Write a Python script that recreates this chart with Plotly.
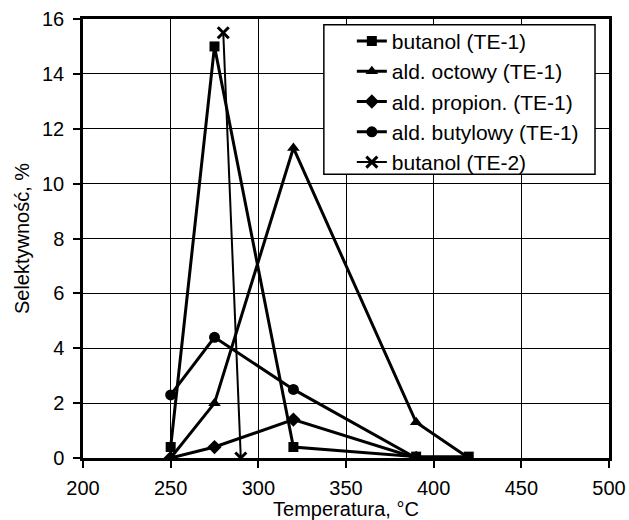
import plotly.graph_objects as go

# Data
t_butanol_te1 = [250, 275, 320, 390, 420]
s_butanol_te1 = [0.4, 15.0, 0.4, 0.05, 0.05]

t_octowy = [250, 275, 320, 390, 420]
s_octowy = [0.0, 2.0, 11.3, 1.3, 0.0]

t_propion = [250, 275, 320, 390]
s_propion = [0.0, 0.4, 1.4, 0.0]

t_butylowy = [250, 275, 320, 390]
s_butylowy = [2.3, 4.4, 2.5, 0.0]

t_butanol_te2 = [280, 290]
s_butanol_te2 = [15.5, 0.0]

names = ["butanol (TE-1)", "ald. octowy (TE-1)", "ald. propion. (TE-1)",
         "ald. butylowy (TE-1)", "butanol (TE-2)"]

fig = go.Figure()
series = [
    (t_butanol_te1, s_butanol_te1, "square", 10, 3),
    (t_octowy, s_octowy, "triangle-up", 11, 3),
    (t_propion, s_propion, "diamond", 11, 3),
    (t_butylowy, s_butylowy, "circle", 11, 3),
    (t_butanol_te2, s_butanol_te2, "x-thin-open", 11, 2),
]
for (x, y, sym, ms, lw), name in zip(series, names):
    marker = dict(symbol=sym, size=ms, color="black")
    if sym == "x-thin-open":
        marker["line"] = dict(color="black", width=3)
    fig.add_trace(go.Scatter(x=x, y=y, name=name, mode="lines+markers",
                             line=dict(color="black", width=lw),
                             marker=marker))

# opaque legend frame
fig.add_shape(type="rect", xref="x domain", yref="y domain",
              x0=0.4579, x1=0.9734, y0=0.6464, y1=0.987,
              line=dict(color="black", width=1.5), fillcolor="white",
              layer="above")

font = "Liberation Sans, Arial, sans-serif"
fig.update_layout(
    width=629, height=520,
    margin=dict(l=83, r=20, t=19, b=62, autoexpand=False),
    paper_bgcolor="white", plot_bgcolor="white",
    font=dict(family=font, size=20, color="black"),
    legend=dict(x=0.5111, y=0.996, xanchor="left", yanchor="top",
                bgcolor="rgba(0,0,0,0)", borderwidth=0,
                font=dict(size=21), tracegroupgap=0),
    xaxis=dict(range=[200, 500], dtick=50, showgrid=True, gridcolor="black",
               gridwidth=1, showline=True, linecolor="black", linewidth=2.5,
               mirror=True, ticks="outside", ticklen=7, tickcolor="black",
               tickwidth=1.5, automargin=False, ticklabelstandoff=3,
               title=dict(text="Temperatura, °C", font=dict(size=20), standoff=0),
               zeroline=False),
    yaxis=dict(range=[0, 16], dtick=2, showgrid=True, gridcolor="black",
               gridwidth=1, showline=True, linecolor="black", linewidth=2.5,
               mirror=True, ticks="outside", ticklen=7, tickcolor="black",
               tickwidth=1.5, automargin=False, ticklabelstandoff=5,
               title=dict(text="Selektywność, %", font=dict(size=20), standoff=8),
               zeroline=False),
)

fig.write_html("out.html",
               config={"displayModeBar": False},
               post_script="document.body.style.margin='0';"
                           "document.body.style.overflow='hidden';")
